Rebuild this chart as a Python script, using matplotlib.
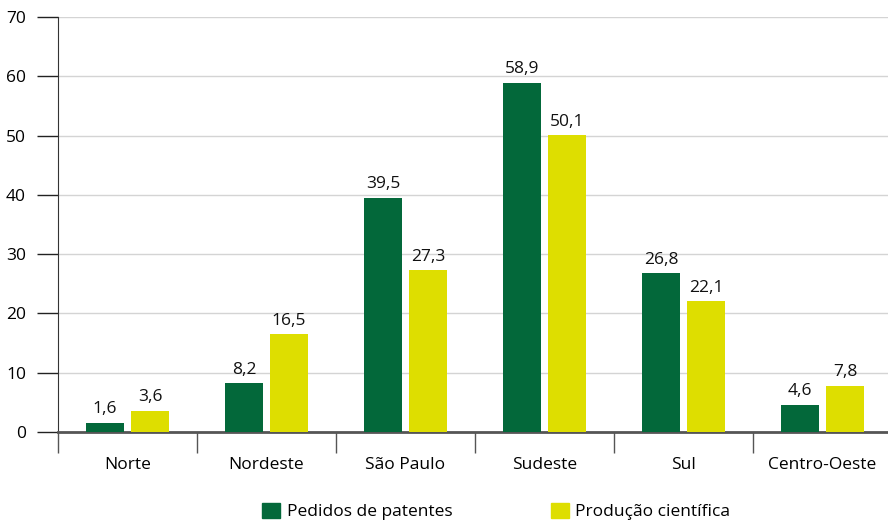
import numpy as np
import matplotlib
matplotlib.use('Agg')
import matplotlib.pyplot as plt
from matplotlib.patches import Patch

plt.rcParams['font.family'] = ['Open Sans', 'DejaVu Sans']

regions = ['Norte', 'Nordeste', 'São Paulo', 'Sudeste', 'Sul', 'Centro-Oeste']
patentes = [1.6, 8.2, 39.5, 58.9, 26.8, 4.6]
producao = [3.6, 16.5, 27.3, 50.1, 22.1, 7.8]
labels_pat = ['1,6', '8,2', '39,5', '58,9', '26,8', '4,6']
labels_prod = ['3,6', '16,5', '27,3', '50,1', '22,1', '7,8']

green = '#03683a'
yellow = '#dede00'
axis_col = '#555555'
fs = 12.5

fig = plt.figure(figsize=(8.88, 5.23), dpi=100)
ax = fig.add_axes([58 / 888, (523 - 432) / 523, 834 / 888, 415 / 523])

x = np.arange(len(regions))
w = 0.273
off = 0.162
b1 = ax.bar(x - off, patentes, w, color=green, zorder=3)
b2 = ax.bar(x + off, producao, w, color=yellow, zorder=3)

for bars, labs in ((b1, labels_pat), (b2, labels_prod)):
    for r, lab in zip(bars, labs):
        ax.text(r.get_x() + r.get_width() / 2, r.get_height() + 0.9, lab,
                ha='center', va='bottom', fontsize=fs, color='#111111')

ax.set_xlim(-0.5, len(regions) - 0.5)
ax.set_ylim(0, 70)
ax.set_yticks(range(0, 71, 10))
ax.yaxis.grid(True, color='#d4d4d4', linewidth=1, zorder=0)
ax.tick_params(axis='y', length=15, width=1, color='#222222', labelsize=fs, pad=8)

ax.set_xticks(np.arange(-0.5, len(regions), 1.0))
ax.set_xticklabels([])
ax.tick_params(axis='x', which='major', length=15, width=1, color=axis_col)
ax.set_xticks(x, minor=True)
ax.set_xticklabels(regions, minor=True)
ax.tick_params(axis='x', which='minor', length=0, labelsize=fs, pad=18)

for s in ('top', 'right'):
    ax.spines[s].set_visible(False)
ax.spines['left'].set_color('#333333')
ax.spines['bottom'].set_color(axis_col)
ax.spines['bottom'].set_linewidth(2)

handles = [Patch(color=green, label='Pedidos de patentes'),
           Patch(color=yellow, label='Produção científica')]
fig.legend(handles=handles, loc='center', bbox_to_anchor=(0.559, 0.022), ncol=2,
           frameon=False, fontsize=fs, handlelength=1.0, handleheight=1.0,
           handletextpad=0.4, columnspacing=5.7)

fig.savefig('out.png', dpi=100)
